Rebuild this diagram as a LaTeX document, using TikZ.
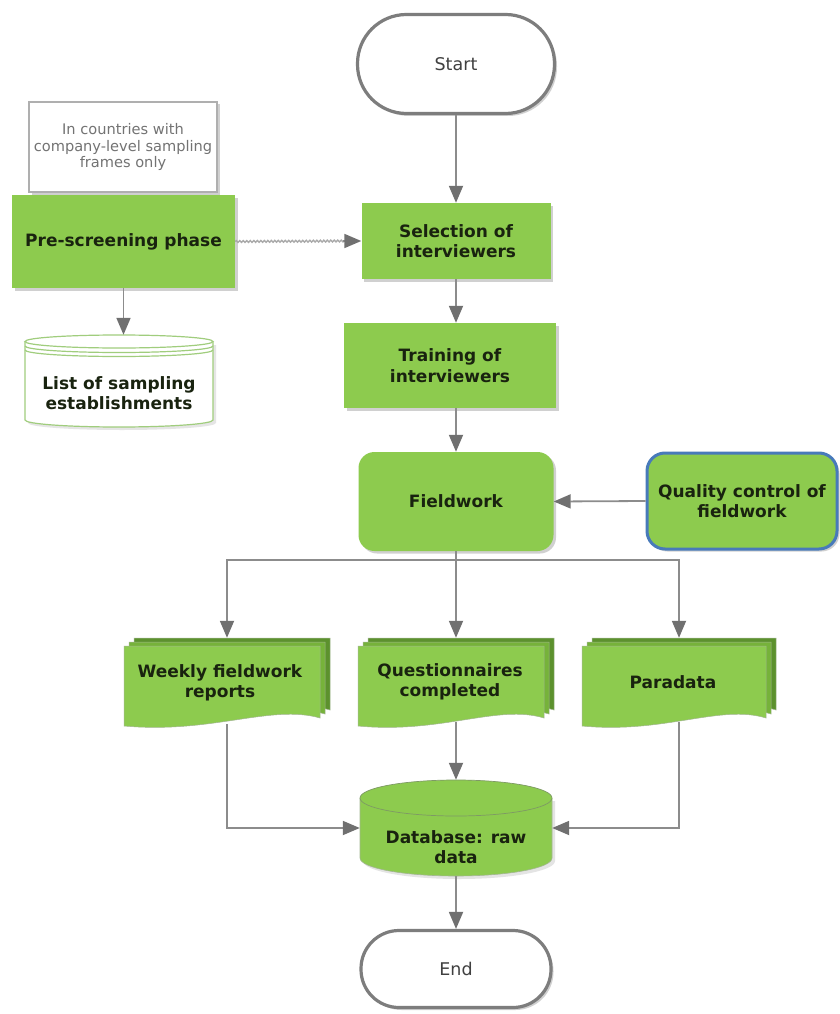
\documentclass[tikz,border=0pt]{standalone}
\usepackage{fontspec}
\setmainfont{DejaVu Sans}
\usetikzlibrary{arrows.meta,shadows,decorations.pathmorphing}
\definecolor{boxgreen}{RGB}{141,203,78}
\definecolor{midgreen}{RGB}{118,178,58}
\definecolor{darkgreen}{RGB}{92,145,45}
\definecolor{edgegreen}{RGB}{70,110,35}
\definecolor{linegray}{RGB}{140,140,140}
\definecolor{tipgray}{RGB}{112,112,112}
\definecolor{termgray}{RGB}{125,125,125}
\definecolor{qcblue}{RGB}{72,122,186}
\definecolor{notegray}{RGB}{115,115,115}
\definecolor{noteedge}{RGB}{175,175,175}
\definecolor{listgreen}{RGB}{160,205,125}
\definecolor{txtdark}{RGB}{25,35,15}
\definecolor{wavegray}{RGB}{170,170,170}
\newcommand{\bxfont}{\fontsize{17pt}{20.5pt}\selectfont\bfseries}
\newcommand{\rgfont}{\fontsize{17.5pt}{20pt}\selectfont}
\newcommand{\ntfont}{\fontsize{14.6pt}{16.5pt}\selectfont}
% one sheet of a document stack: xa ya xb yb fill
\newcommand{\docsheet}[5]{%
  \pgfmathsetmacro{\sxa}{#1}\pgfmathsetmacro{\sya}{#2}%
  \pgfmathsetmacro{\sxb}{#3}\pgfmathsetmacro{\syb}{#4}%
  \pgfmathsetmacro{\scxa}{\sxb-0.25*(\sxb-\sxa)}%
  \pgfmathsetmacro{\scxb}{\sxa+0.45*(\sxb-\sxa)}%
  \filldraw[fill=#5, draw=edgegreen!50, line width=0.5pt]
    (\sxa,\sya) -- (\sxb,\sya) -- (\sxb,\syb)
    .. controls (\scxa,\syb-14) and (\scxb,\syb+16) .. (\sxa,\syb+8) -- cycle;}
% x0 y0 x1 y1
\newcommand{\docstack}[4]{%
  \docsheet{#1+10}{#2}{#3}{#4-8}{darkgreen}%
  \docsheet{#1+5}{#2+4}{#3-5}{#4-4}{midgreen}%
  \docsheet{#1}{#2+8}{#3-10}{#4}{boxgreen}}
\begin{document}
\begin{tikzpicture}[x=1pt,y=-1pt,
  softshadow/.style={drop shadow={shadow xshift=2.5pt, shadow yshift=-2.5pt, opacity=0.3, fill=black!60}},
  greenbox/.style={rectangle, fill=boxgreen, draw=none, align=center, text=txtdark, font=\bxfont, softshadow},
  roundgreen/.style={greenbox, rounded corners=16pt},
  qcbox/.style={greenbox, rounded corners=18pt, draw=qcblue, line width=3pt},
  termbox/.style={rectangle, fill=white, draw=termgray, line width=3.2pt, text=black!75, font=\rgfont, softshadow},
  notebox/.style={rectangle, fill=white, draw=noteedge, line width=1.2pt, align=center, text=notegray, font=\ntfont, softshadow},
  shapenode/.style={rectangle, draw=none, fill=none, inner sep=0pt},
  celltext/.style={align=center, text=txtdark, font=\bxfont},
  conn/.style={draw=linegray, line width=1.8pt},
  arrowconn/.style={conn, -{Triangle[length=17pt,width=14pt,fill=tipgray,color=tipgray]}},
  wavy/.style={draw=wavegray, line width=1.4pt, decorate, decoration={snake, amplitude=0.9pt, segment length=3.5pt}}
]
\useasboundingbox (0,0) rectangle (840,1014);
\fill[white] (0,0) rectangle (840,1014);

% terminals
\node[termbox, minimum width=197pt, minimum height=99pt, rounded corners=49pt] (start) at (456,64) {Start};
\node[termbox, minimum width=190pt, minimum height=77pt, rounded corners=38pt] (end) at (456,969) {End};

% note and pre-screening
\node[notebox, minimum width=188pt, minimum height=90pt] (note) at (123,147) {In countries with\\company-level sampling\\frames only};
\node[greenbox, minimum width=223pt, minimum height=93pt] (pre) at (123.5,241.5) {Pre-screening phase};

% list of sampling establishments (cylinder)
\fill[black!25, opacity=0.4] (28,345) -- (28,423) arc[start angle=180,end angle=360,x radius=94pt,y radius=7pt] -- (216,345) -- cycle;
\filldraw[fill=white, draw=listgreen, line width=1.2pt]
  (25,341.5) -- (25,420) arc[start angle=180,end angle=360,x radius=94pt,y radius=7pt] -- (213,341.5);
\filldraw[fill=white, draw=listgreen, line width=1.2pt] (119,341.5) ellipse [x radius=94pt, y radius=6.5pt];
\draw[listgreen, line width=1.2pt] (25,346) arc[start angle=180,end angle=360,x radius=94pt,y radius=6.5pt];
\draw[listgreen, line width=1.2pt] (25,350) arc[start angle=180,end angle=360,x radius=94pt,y radius=6.5pt];
\node[shapenode, minimum width=188pt, minimum height=92pt] (list) at (119,381) {};
\node[celltext] at ([yshift=-12pt]list.center) {List of sampling\\establishments};

% main column
\node[greenbox, minimum width=189pt, minimum height=76pt] (sel) at (456,241) {Selection of\\interviewers};
\node[greenbox, minimum width=212pt, minimum height=85pt] (trn) at (450,365.5) {Training of\\interviewers};
\node[roundgreen, minimum width=195pt, minimum height=99pt] (fw) at (456,501.5) {Fieldwork};
\node[qcbox, minimum width=190pt, minimum height=96pt] (qc) at (742,501) {Quality control of\\fieldwork};

% document stacks
\docstack{124}{638}{330}{718}
\node[shapenode, minimum width=206pt, minimum height=80pt] (wk) at (227,678) {};
\node[celltext] at ([xshift=-7pt,yshift=-5pt]wk.center) {Weekly fieldwork\\reports};
\docstack{358}{638}{554}{718}
\node[shapenode, minimum width=196pt, minimum height=80pt] (qs) at (456,678) {};
\node[celltext] at ([xshift=-6pt,yshift=-4pt]qs.center) {Questionnaires\\completed};
\docstack{582}{638}{776}{718}
\node[shapenode, minimum width=194pt, minimum height=80pt] (pd) at (679,678) {};
\node[celltext] at ([xshift=-6pt,yshift=-4pt]pd.center) {Paradata};

% database cylinder
\fill[black!30, opacity=0.35] (363,801) -- (363,861) arc[start angle=180,end angle=360,x radius=96pt,y radius=18pt] -- (555,801) -- cycle;
\filldraw[fill=boxgreen, draw=edgegreen!50, line width=0.6pt]
  (360,798) -- (360,858) arc[start angle=180,end angle=360,x radius=96pt,y radius=18pt] -- (552,798);
\filldraw[fill=boxgreen, draw=edgegreen!70, line width=0.7pt] (456,798) ellipse [x radius=96pt, y radius=18pt];
\node[shapenode, minimum width=192pt, minimum height=96pt] (db) at (456,828) {};
\node[celltext] at ([yshift=-19pt]db.center) {Database: raw\\data};

% connectors
\draw[arrowconn] (start.south) -- (sel.north);
\draw[wavy] (pre.east) -- ([xshift=-16pt]sel.west);
\draw[arrowconn] ([xshift=-18pt]sel.west) -- (sel.west);
\draw[arrowconn] (pre.south) -- (pre.south |- list.north);
\draw[arrowconn] (sel.south) -- (sel.south |- trn.north);
\draw[arrowconn] (fw.north |- trn.south) -- (fw.north);
\draw[arrowconn] (qc.west) -- (fw.east);
\coordinate (bus) at (456,560);
\draw[conn] (fw.south) -- (bus);
\draw[arrowconn] (bus) -| (wk.north);
\draw[arrowconn] (bus) -| (pd.north);
\draw[arrowconn] (bus) -- (qs.north);
\draw[arrowconn] ([yshift=-6pt]wk.south) |- (db.west);
\draw[arrowconn] ([yshift=-4pt]pd.south) |- (db.east);
\draw[arrowconn] ([yshift=-4pt]qs.south) -- (db.north);
\draw[arrowconn] (db.south) -- (end.north);
\end{tikzpicture}
\end{document}
